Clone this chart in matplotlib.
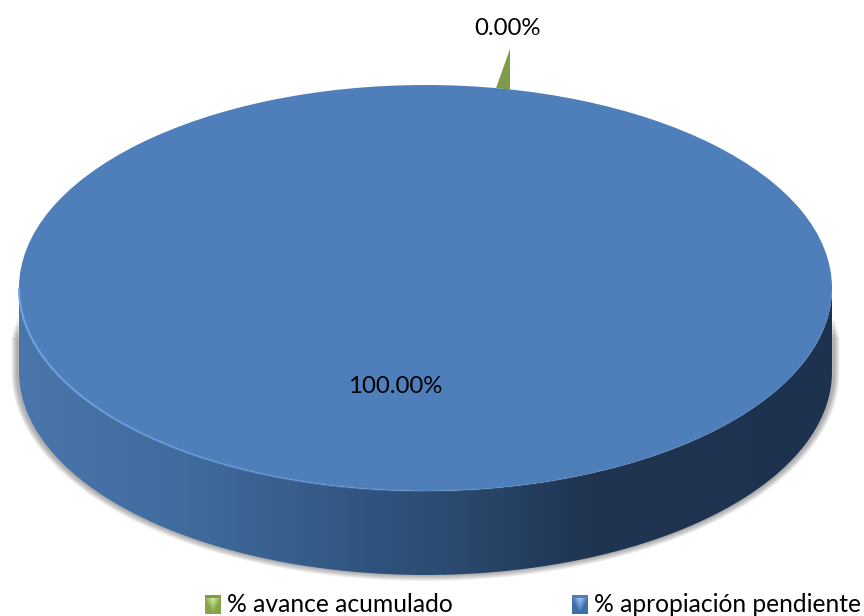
import numpy as np, matplotlib
matplotlib.use('Agg')
import matplotlib.pyplot as plt
from matplotlib.path import Path
from matplotlib.patches import PathPatch, Polygon
from matplotlib.colors import LinearSegmentedColormap, to_rgb

labels = ['% avance acumulado', '% apropiación pendiente']
values = [0.0, 100.0]
colors = ['#7f9a48', '#4e7fbb']
pct_labels = ['0.00%', '100.00%']

plt.rcParams['font.family'] = ['Lato', 'DejaVu Sans']

W, H = 864, 616
cx, cy, rx, ry = 425.5, 288, 406.5, 203
depth = 84/ry

fig = plt.figure(figsize=(W/100, H/100), dpi=100)
ax = fig.add_axes([0, 0, 1, 1])
wedges, _ = ax.pie(values, colors=colors, startangle=78, counterclock=False, radius=1)
for wd in wedges: wd.set_zorder(5)
ax.set_aspect('auto')

t = np.linspace(np.pi, 2*np.pi, 300)
xs, ys = np.cos(t), np.sin(t)
wall_x = np.r_[xs, xs[::-1]]
wall_y = np.r_[ys-depth, ys[::-1]]
wall = Path(np.c_[wall_x, wall_y])

# soft shadow, open path so no corners at the top of the wall
for lw in np.arange(1, 10, 1.5):
    sx = np.r_[-1.004, xs*1.004, 1.004]
    sy = np.r_[-0.14-lw*0.012, ys-depth, -0.14-lw*0.012]
    ax.plot(sx, sy, color='#303030', lw=lw, alpha=0.08, zorder=1, solid_capstyle='butt')

cmap = LinearSegmentedColormap.from_list('wall', [(0, '#4a76ab'), (0.22, '#3f6a9c'), (0.45, '#2f527c'),
                                                  (0.55, '#2a486d'), (0.7, '#1f3551'), (1, '#1d324e')])
im = ax.imshow(np.linspace(0, 1, 400)[None, :], extent=(-1, 1, -1-depth, 0), aspect='auto', cmap=cmap, zorder=2)
im.set_clip_path(PathPatch(wall, transform=ax.transData))

# green slice sticks out behind the top
a = np.deg2rad(wedges[0].theta1)
ax.add_patch(Polygon([(np.cos(a), np.sin(a)), (np.cos(a), np.sin(a)+0.2),
                      (np.cos(a+0.035), np.sin(a+0.035))], fc=colors[0], ec='none', zorder=3))

# light rim on front edge of the top
for i in range(0, 299, 3):
    al = np.clip(1.0-i/190, 0, 1)
    ax.plot(xs[i:i+4], ys[i:i+4], color='#74a6e6', lw=1.5, alpha=al, zorder=6, solid_capstyle='butt')

ax.text(np.cos(a)-0.005, 1.277, pct_labels[0], ha='center', va='center', fontsize=17.3, color='black', zorder=7)
ax.text(-0.075, -0.483, pct_labels[1], ha='center', va='center', fontsize=17.3, color='black', zorder=7)

ax.set_xlim(-cx/rx, (W-cx)/rx)
ax.set_ylim((cy-H)/ry, cy/ry)
ax.axis('off')

leg = ax.legend(wedges, labels, ncol=2, loc='lower left', bbox_to_anchor=(205/W, 0), frameon=False, fontsize=17.7,
                handlelength=0.65, handleheight=0.65, handletextpad=0.245, columnspacing=4.84, borderpad=0, borderaxespad=0)

# bevelled legend swatches
fig.canvas.draw()
gy, gx = np.mgrid[0:1:16j, -1:1:16j]
w = np.clip(1.1-np.abs(gx)*1.0-gy*1.1, 0, 1)[..., None]
for h, dark, light in zip(leg.get_patches(), ['#86a548', '#3f6fa8'], ['#cfe69a', '#96c0f0']):
    bb = h.get_window_extent()
    arr = np.array(to_rgb(dark))*(1-w) + np.array(to_rgb(light))*w
    fig.figimage(arr, xo=int(round(bb.x0)), yo=int(round(bb.y0))-2, origin='upper', zorder=8)

fig.savefig('out.png', dpi=100)
